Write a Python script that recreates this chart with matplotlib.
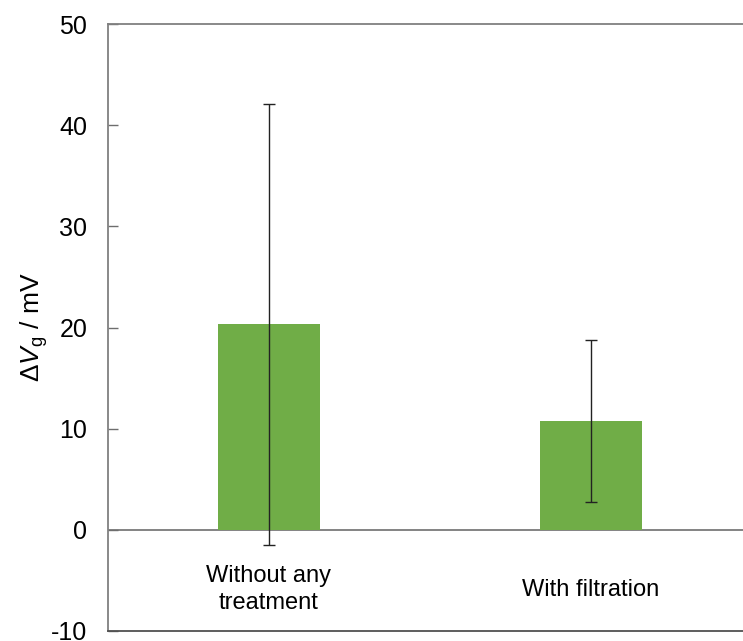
import matplotlib
matplotlib.use("Agg")
import matplotlib.pyplot as plt
import numpy as np

plt.rcParams['font.family'] = ['Liberation Sans', 'DejaVu Sans']
plt.rcParams['mathtext.fontset'] = 'custom'
plt.rcParams['mathtext.rm'] = 'Liberation Sans'
plt.rcParams['mathtext.it'] = 'Liberation Sans:italic'
plt.rcParams['axes.unicode_minus'] = False

# data
categories = ['Without any\ntreatment', 'With filtration']
values = [20.3, 10.8]
errors = [21.8, 8.0]
yticks = [-10, 0, 10, 20, 30, 40, 50]

fig = plt.figure(figsize=(7.43, 6.41), dpi=100)
ax = fig.add_axes([108/743, 1-631/641, 644/743, (631-24)/641])

x = np.arange(len(categories))
ax.bar(x, values, width=0.314, color='#70AD47', zorder=2)
ax.errorbar(x, values, yerr=errors, fmt='none', ecolor='#222222',
            elinewidth=1.0, capsize=4, capthick=1.0, zorder=3)

ax.axhline(0, color='#6e6e6e', lw=1.2, zorder=1)

ax.set_xlim(-0.5, 1.5)
ax.set_ylim(-10, 50)
ax.set_yticks(yticks)
ax.set_xticks([])
ax.tick_params(axis='y', direction='in', length=7, width=1, color='#6e6e6e',
               labelsize=18, pad=15)

for s in ['left', 'top', 'bottom']:
    ax.spines[s].set_color('#808080')
    ax.spines[s].set_linewidth(1.3)
ax.spines['bottom'].set_color('#505050')
ax.spines['right'].set_visible(False)

for xi, lab in zip(x, categories):
    ax.text(xi, -5.9, lab, ha='center', va='center', fontsize=17,
            linespacing=1.25)

ax.set_ylabel(r'$\mathit{\Delta V}_\mathrm{g}$ / mV', fontsize=19, labelpad=1)

fig.savefig('out.png', dpi=100)
